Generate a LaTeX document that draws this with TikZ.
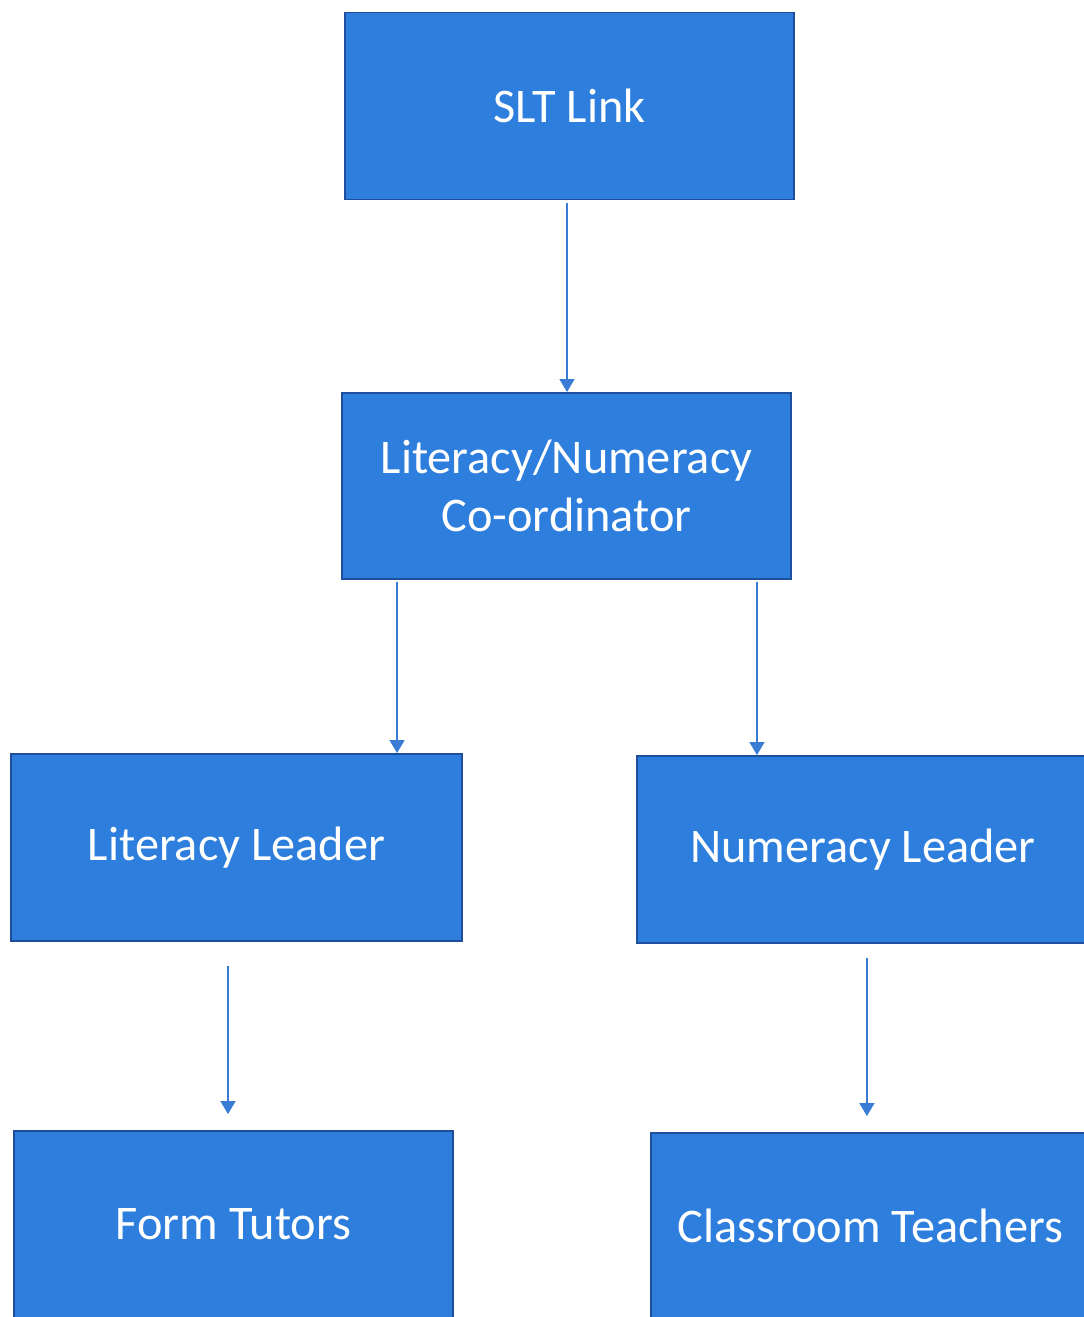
\documentclass[tikz,border=0pt]{standalone}
\usepackage{fontspec}
\setmainfont{Carlito}
\usepackage{tikz}
\usetikzlibrary{arrows.meta,positioning,calc}
\definecolor{boxblue}{HTML}{2E7FDD}
\definecolor{boxedge}{HTML}{1F4E9C}
\definecolor{linkblue}{HTML}{3A7BD5}

\begin{document}
\begin{tikzpicture}[x=0.02cm, y=-0.02cm,
      role/.style={draw=boxedge, line width=1.1pt, fill=boxblue, text=white,
                   minimum width=#1, minimum height=3.74cm, inner sep=0pt,
                   align=center, font=\fontsize{27.5}{33}\selectfont},
      role/.default=8.98cm,
      arr/.style={-{Triangle[width=0.3cm,length=0.26cm]}, line width=0.85pt, linkblue}
    ]
      \useasboundingbox (0,0) rectangle (1083,1317);
      \node[role] (slt) at (569.5,106) {SLT Link};
      \node[role, minimum height=3.72cm] (coord) at (566.5,486) {Literacy/Numeracy\\Co-ordinator};
      \node[role=9.02cm] (lit) at (236.5,847.5) {Literacy Leader};
      % right column runs off the page
      \node[role=10cm, anchor=west] (num) at (636,849.5) {\hspace*{-0.96cm}Numeracy Leader};
      \node[role=8.78cm] (form) at (233.5,1224.5) {Form Tutors};
      \node[role=10cm, minimum height=3.72cm, anchor=west] (teach) at (650,1226) {\hspace*{-1.22cm}Classroom Teachers};
      \draw[arr] ([xshift=-0.05cm,yshift=-0.06cm]slt.south) -- ([xshift=-0.05cm]slt.south |- coord.north);
      \draw[arr] ([xshift=-3.39cm,yshift=-0.04cm]coord.south) -- ([xshift=-3.39cm]coord.south |- lit.north);
      \draw[arr] ([xshift=3.81cm,yshift=-0.04cm]coord.south) -- ([xshift=3.81cm]coord.south |- num.north);
      \draw[arr] ([xshift=-0.17cm,yshift=-0.48cm]lit.south) -- ([xshift=-0.17cm,yshift=0.32cm]lit.south |- form.north);
      \draw[arr] ([xshift=-0.4cm,yshift=-0.28cm]num.south) -- ([xshift=-0.4cm,yshift=0.32cm]num.south |- teach.north);
    \end{tikzpicture}
\end{document}
